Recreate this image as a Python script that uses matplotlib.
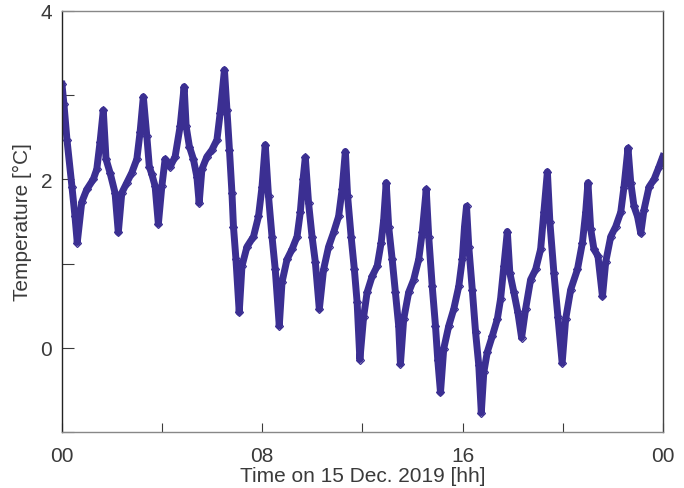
import matplotlib
matplotlib.use("Agg")
import matplotlib.pyplot as plt

plt.rcParams["font.family"] = ["Liberation Sans", "DejaVu Sans"]
plt.rcParams["font.size"] = 15

# time in hours since 00:00, temperature in degC
hours = [0.00, 0.08, 0.20, 0.40, 0.52, 0.61, 0.79, 0.99, 1.25, 1.39, 1.52, 1.65,
         1.76, 1.92, 2.12, 2.25, 2.39, 2.59, 2.79, 2.99, 3.12, 3.25, 3.39, 3.49,
         3.59, 3.72, 3.85, 3.99, 4.12, 4.32, 4.52, 4.72, 4.88, 4.96, 5.09, 5.25,
         5.39, 5.48, 5.59, 5.79, 5.99, 6.19, 6.32, 6.49, 6.59, 6.69, 6.79, 6.85,
         6.95, 7.08, 7.19, 7.39, 7.65, 7.85, 7.99, 8.12, 8.25, 8.39, 8.52, 8.68,
         8.79, 8.99, 9.19, 9.39, 9.52, 9.63, 9.72, 9.85, 9.99, 10.12, 10.28, 10.45,
         10.65, 10.85, 11.05, 11.19, 11.32, 11.41, 11.55, 11.68, 11.79, 11.90, 12.05,
         12.19, 12.39, 12.59, 12.75, 12.85, 12.95, 13.05, 13.19, 13.32, 13.45, 13.52,
         13.65, 13.85, 14.05, 14.25, 14.39, 14.55, 14.65, 14.79, 14.92, 15.01, 15.12,
         15.25, 15.45, 15.65, 15.85, 15.99, 16.08, 16.16, 16.25, 16.39, 16.52, 16.65,
         16.75, 16.85, 16.99, 17.19, 17.39, 17.52, 17.65, 17.79, 17.89, 18.05, 18.21,
         18.36, 18.52, 18.72, 18.92, 19.12, 19.25, 19.39, 19.49, 19.65, 19.81, 19.98,
         20.12, 20.32, 20.59, 20.79, 20.92, 21.01, 21.12, 21.25, 21.41, 21.59, 21.72,
         21.92, 22.12, 22.32, 22.45, 22.61, 22.72, 22.85, 22.99, 23.12, 23.25, 23.45,
         23.65, 23.85, 24.00]
temp = [3.13, 2.89, 2.47, 1.91, 1.56, 1.25, 1.73, 1.88, 2.00, 2.12, 2.44, 2.82,
        2.24, 2.08, 1.84, 1.37, 1.84, 1.96, 2.08, 2.24, 2.56, 2.98, 2.51, 2.15,
        2.06, 1.92, 1.47, 1.92, 2.24, 2.15, 2.27, 2.63, 3.10, 2.63, 2.39, 2.24,
        2.03, 1.72, 2.12, 2.27, 2.35, 2.47, 2.79, 3.30, 2.83, 2.35, 1.84, 1.44,
        1.05, 0.42, 0.97, 1.20, 1.32, 1.56, 1.91, 2.41, 1.80, 1.32, 0.93, 0.26,
        0.78, 1.05, 1.17, 1.32, 1.61, 2.00, 2.26, 1.72, 1.32, 1.02, 0.46, 0.93,
        1.20, 1.37, 1.56, 1.88, 2.33, 1.80, 1.32, 0.93, 0.54, -0.14, 0.37,
        0.66, 0.85, 0.97, 1.25, 1.52, 1.96, 1.44, 1.05, 0.66, 0.26, -0.19,
        0.34, 0.66, 0.81, 1.05, 1.37, 1.88, 1.32, 0.73, 0.26, -0.14, -0.53,
        -0.01, 0.26, 0.46, 0.73, 1.05, 1.44, 1.68, 1.20, 0.69, 0.19, -0.21,
        -0.77, -0.29, -0.05, 0.14, 0.34, 0.58, 0.97, 1.38, 0.89, 0.66, 0.42,
        0.12, 0.46, 0.81, 0.93, 1.17, 1.61, 2.09, 1.49, 0.89, 0.37, -0.18,
        0.34, 0.69, 0.93, 1.25, 1.61, 1.96, 1.41, 1.17, 1.09, 0.61, 1.02,
        1.32, 1.44, 1.61, 1.91, 2.37, 1.96, 1.68, 1.56, 1.36, 1.64, 1.91,
        2.00, 2.15, 2.27]

xticks = [0, 4, 8, 12, 16, 20, 24]
xticklabels = ['00', '', '08', '', '16', '', '00']
yticks = [-1, 0, 1, 2, 3, 4]
yticklabels = ['', '0', '', '2', '', '4']

col = '#3b2f92'
txt = '#3a3a3a'

fig = plt.figure(figsize=(6.84, 4.89), dpi=100)
ax = fig.add_axes([0.0906, 0.1145, 0.8784, 0.861])
ax.plot(hours, temp, color=col, lw=5, solid_joinstyle='round')
ax.plot(hours, temp, color=col, lw=0, marker='D', ms=4.5, mfc='none', mew=0.9)

ax.set_xlim(0, 24)
ax.set_ylim(-1, 4)
ax.set_xticks(xticks)
ax.set_xticklabels(xticklabels)
ax.set_yticks(yticks)
ax.set_yticklabels(yticklabels)
ax.tick_params(axis='x', direction='in', length=6.5, width=0.8, pad=10, colors=txt)
ax.tick_params(axis='y', direction='in', length=8.5, width=0.8, pad=7, colors=txt)

ax.spines['left'].set_color('#222222')
ax.spines['right'].set_color('#444444')
ax.spines['top'].set_color('#888888')
ax.spines['bottom'].set_color('#888888')
for s in ax.spines.values():
    s.set_linewidth(1.0)

ax.set_xlabel('Time on 15 Dec. 2019 [hh]', color=txt, labelpad=1)
ax.set_ylabel('Temperature [°C]', color=txt, labelpad=6)

fig.savefig('out.png', dpi=100)
